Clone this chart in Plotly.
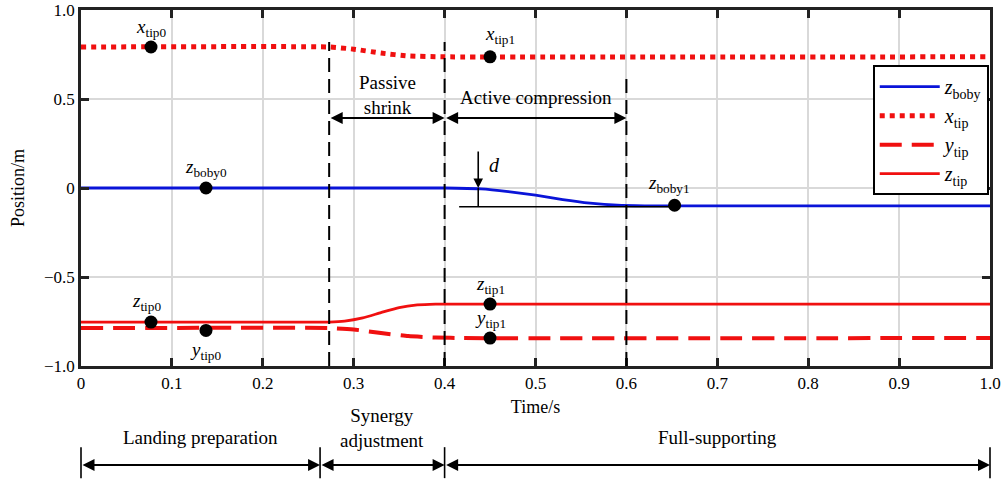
import plotly.graph_objects as go

# ---------------- data ----------------
t_zboby = [0, 0.40, 0.44, 0.47, 0.50, 0.53, 0.56, 0.59, 0.62, 1.0]
v_zboby = [0, 0, -0.005, -0.02, -0.04, -0.065, -0.085, -0.097, -0.100, -0.100]

t_xtip = [0, 0.273, 0.30, 0.33, 0.36, 0.40, 1.0]
v_xtip = [0.792, 0.792, 0.780, 0.758, 0.742, 0.737, 0.737]

t_ytip = [0, 0.273, 0.30, 0.33, 0.36, 0.39, 0.42, 1.0]
v_ytip = [-0.787, -0.787, -0.795, -0.815, -0.832, -0.840, -0.843, -0.843]

t_ztip = [0, 0.273, 0.29, 0.31, 0.33, 0.35, 0.37, 0.39, 1.0]
v_ztip = [-0.753, -0.753, -0.748, -0.730, -0.700, -0.672, -0.657, -0.652, -0.652]

marker_t = [0.077, 0.1375, 0.077, 0.1375, 0.45, 0.45, 0.45, 0.653]
marker_v = [0.792, 0.0, -0.753, -0.800, 0.737, -0.652, -0.843, -0.097]
marker_labels = ["<i>x</i><sub>tip0</sub>", "<i>z</i><sub>boby0</sub>", "<i>z</i><sub>tip0</sub>",
                 "<i>y</i><sub>tip0</sub>", "<i>x</i><sub>tip1</sub>", "<i>z</i><sub>tip1</sub>",
                 "<i>y</i><sub>tip1</sub>", "<i>z</i><sub>boby1</sub>"]
label_dy = [-19, -20, -20, 21, -22, -19, -19, -21]
label_dx = [0, 0, -4, 0, 10, 0, 0, -6]

x_ticks = [0, 0.1, 0.2, 0.3, 0.4, 0.5, 0.6, 0.7, 0.8, 0.9, 1.0]
x_ticktext = ["0", "0.1", "0.2", "0.3", "0.4", "0.5", "0.6", "0.7", "0.8", "0.9", "1.0"]
y_ticks = [1.0, 0.5, 0, -0.5, -1.0]
y_ticktext = ["1.0", "0.5", "0", "\u22120.5", "\u22121.0"]

phase_lines = [0.273, 0.4, 0.6]          # dashed vertical lines
phase_line_top = [0.82, 0.82, 0.63]
bottom_bounds = [0.0, 0.263, 0.4, 1.0]   # lower phase arrows
bottom_names = ["Landing preparation", "Synergy<br>adjustment", "Full-supporting"]

FONT = "Liberation Serif"
RED = "#f01010"
BLUE = "#0a14d8"

fig = go.Figure()
fig.add_trace(go.Scatter(x=t_zboby, y=v_zboby, mode="lines", name="<i>z</i><sub>boby</sub>",
                         line=dict(color=BLUE, width=2.8, shape="spline", smoothing=0.5)))
fig.add_trace(go.Scatter(x=t_xtip, y=v_xtip, mode="lines", name="<i>x</i><sub>tip</sub>",
                         line=dict(color=RED, width=5, dash="dot", shape="spline", smoothing=0.5)))
fig.add_trace(go.Scatter(x=t_ytip, y=v_ytip, mode="lines", name="<i>y</i><sub>tip</sub>",
                         line=dict(color=RED, width=4, dash="22px,10px", shape="spline", smoothing=0.5)))
fig.add_trace(go.Scatter(x=t_ztip, y=v_ztip, mode="lines", name="<i>z</i><sub>tip</sub>",
                         line=dict(color=RED, width=2.8, shape="spline", smoothing=0.5)))
fig.add_trace(go.Scatter(x=marker_t, y=marker_v, mode="markers", showlegend=False,
                         marker=dict(color="black", size=13)))

ann = []
for t, v, lab, dy, dx in zip(marker_t, marker_v, marker_labels, label_dy, label_dx):
    ann.append(dict(x=t, y=v, xref="x", yref="y", text=lab, showarrow=False,
                    xshift=dx, yshift=-dy, font=dict(family=FONT, size=19, color="black")))

shapes = []
for xl, top in zip(phase_lines, phase_line_top):
    shapes.append(dict(type="line", xref="x", yref="y", x0=xl, x1=xl, y0=-1.0, y1=top,
                       line=dict(color="black", width=2, dash="14px,7px")))

# upper double arrows
arrow_y = 0.393
for a, b in [(0.273, 0.4), (0.4, 0.6)]:
    ann.append(dict(x=b, y=arrow_y, ax=a, ay=arrow_y, xref="x", yref="y", axref="x", ayref="y",
                    text="", showarrow=True, arrowhead=2, arrowside="end+start",
                    arrowsize=1.2, arrowwidth=2, arrowcolor="black", standoff=0, startstandoff=0))
ann.append(dict(x=0.337, y=0.52, xref="x", yref="y", text="Passive<br>shrink", showarrow=False,
                font=dict(family=FONT, size=19, color="black")))
ann.append(dict(x=0.50, y=0.51, xref="x", yref="y", text="Active compression", showarrow=False,
                font=dict(family=FONT, size=19, color="black")))

# d annotation
ann.append(dict(x=0.437, y=0.0, ax=0.437, ay=0.213, xref="x", yref="y", axref="x", ayref="y",
                text="", showarrow=True, arrowhead=2, arrowsize=1.2, arrowwidth=1.6,
                arrowcolor="black", standoff=0))
shapes.append(dict(type="line", xref="x", yref="y", x0=0.437, x1=0.437, y0=0.0, y1=-0.105,
                   line=dict(color="black", width=1.6)))
shapes.append(dict(type="line", xref="x", yref="y", x0=0.416, x1=0.65, y0=-0.105, y1=-0.105,
                   line=dict(color="black", width=1.6)))
ann.append(dict(x=0.455, y=0.13, xref="x", yref="y", text="<i>d</i>", showarrow=False,
                font=dict(family=FONT, size=20, color="black")))

# bottom phase arrows
yb = -0.278
for i in range(3):
    a, b = bottom_bounds[i], bottom_bounds[i + 1]
    ann.append(dict(x=b, y=yb, ax=a, ay=0, xref="x", yref="paper", axref="x", ayref="pixel",
                    text="", showarrow=True, arrowhead=2, arrowside="end+start",
                    arrowsize=1.2, arrowwidth=2, arrowcolor="black", standoff=0, startstandoff=0))
    ann.append(dict(x=(a + b) / 2, y=-0.175 if i == 1 else -0.202, xref="x", yref="paper",
                    yanchor="middle", text=bottom_names[i], showarrow=False,
                    font=dict(family=FONT, size=19, color="black")))
for xb in bottom_bounds:
    shapes.append(dict(type="line", xref="paper", yref="paper", x0=xb, x1=xb, y0=-0.228, y1=-0.315,
                       line=dict(color="black", width=1.6)))

fig.update_layout(
    width=1008, height=483,
    margin=dict(l=81, r=18, t=10, b=117, autoexpand=False),
    paper_bgcolor="white", plot_bgcolor="white",
    font=dict(family=FONT, size=17, color="black"),
    annotations=ann, shapes=shapes,
    legend=dict(x=0.871, y=0.845, xanchor="left", yanchor="top",
                bgcolor="white", bordercolor="black", borderwidth=2,
                font=dict(family=FONT, size=20, color="black"),
                itemwidth=60, tracegroupgap=0),
    xaxis=dict(range=[0, 1], tickvals=x_ticks, ticktext=x_ticktext, automargin=False,
               showgrid=True, gridcolor="#d9d9d9", gridwidth=2,
               showline=True, linecolor="#222222", linewidth=2.5, mirror="ticks",
               ticks="inside", ticklen=8, tickwidth=2.5, tickcolor="#222222",
               zeroline=False, title=dict(text="Time/s", standoff=9,
                                          font=dict(family=FONT, size=18))),
    yaxis=dict(range=[-1, 1], tickvals=y_ticks, ticktext=y_ticktext, automargin=False,
               showgrid=True, gridcolor="#d9d9d9", gridwidth=2,
               showline=True, linecolor="#222222", linewidth=2.5, mirror="ticks",
               ticks="inside", ticklen=8, tickwidth=2.5, tickcolor="#222222",
               zeroline=False, title=dict(text="Position/m", standoff=15,
                                          font=dict(family=FONT, size=18))),
)

fig.write_html("out.html", config={"displayModeBar": False},
               post_script="document.body.style.margin='0';")
